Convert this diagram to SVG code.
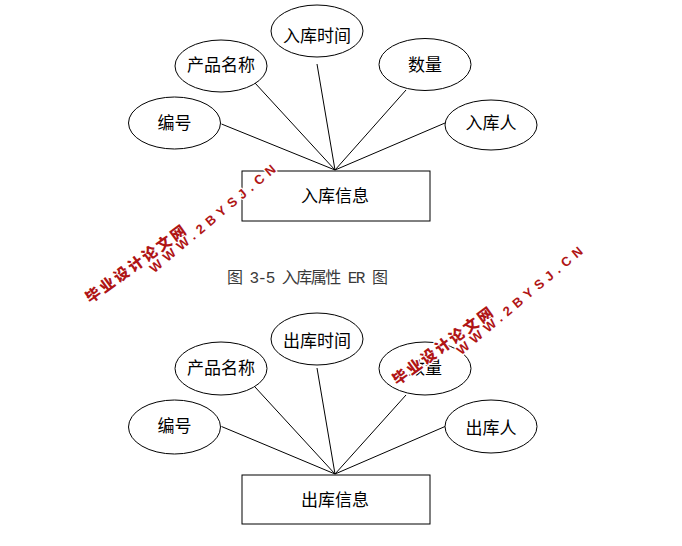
<svg xmlns="http://www.w3.org/2000/svg" width="682" height="546" viewBox="0 0 682 546">
<style>
.attr{fill:#fff;stroke:#000;stroke-width:1}
.ent{fill:#fff;stroke:#000;stroke-width:1}
.lbl{font-family:"Noto Sans CJK SC","Noto Sans",sans-serif;font-size:17px;fill:#000;text-anchor:middle}
.cap{font-family:"Liberation Mono","Noto Sans CJK SC",monospace;font-size:16px;fill:#3a3a3a}
.conn line{stroke:#000;stroke-width:1}
.wm1{font-family:"Noto Sans CJK SC",sans-serif;font-size:15px;font-weight:900;fill:#b01515;text-anchor:middle;stroke:#fff;stroke-width:2.5;paint-order:stroke;stroke-linejoin:round}
.wm2{font-family:"Liberation Sans",Arial,sans-serif;font-size:13px;font-weight:bold;fill:#b01515;text-anchor:middle;stroke:#fff;stroke-width:2.5;paint-order:stroke;stroke-linejoin:round}
</style>
<rect width="682" height="546" fill="#fff"/>

<!-- Diagram 1 -->
<g id="connectors1" class="conn">
<line x1="221.5" y1="124" x2="335" y2="170"/>
<line x1="255" y1="83" x2="335" y2="170"/>
<line x1="317" y1="64" x2="335" y2="170"/>
<line x1="406" y1="90" x2="335" y2="170"/>
<line x1="445" y1="123" x2="335" y2="170"/>
</g>
<g id="n1-bianhao"><ellipse class="attr" cx="174.5" cy="123" rx="46" ry="26"/><text class="lbl" x="174.5" y="129">编号</text></g>
<g id="n1-chanpin"><ellipse class="attr" cx="221" cy="66" rx="46" ry="26"/><text class="lbl" x="221" y="71">产品名称</text></g>
<g id="n1-shijian"><ellipse class="attr" cx="317" cy="31" rx="46" ry="26"/><text class="lbl" x="317" y="42">入库时间</text></g>
<g id="n1-shuliang"><ellipse class="attr" cx="425" cy="64.5" rx="46" ry="26"/><text class="lbl" x="425" y="71">数量</text></g>
<g id="n1-ren"><ellipse class="attr" cx="491" cy="125" rx="46" ry="25"/><text class="lbl" x="491" y="129">入库人</text></g>
<g id="n1-entity"><rect class="ent" x="242" y="171" width="188" height="50"/><text class="lbl" x="335" y="201.5">入库信息</text></g>

<text class="cap" x="227" y="283" textLength="161" lengthAdjust="spacing">图 3-5 入库属性 ER 图</text>

<!-- Diagram 2 -->
<g id="connectors2" class="conn">
<line x1="221.5" y1="426.5" x2="335" y2="474"/>
<line x1="255" y1="387" x2="335" y2="474"/>
<line x1="317" y1="368" x2="335" y2="474"/>
<line x1="406" y1="395" x2="335" y2="474"/>
<line x1="445" y1="426.5" x2="335" y2="474"/>
</g>
<g id="n2-bianhao"><ellipse class="attr" cx="174.5" cy="427" rx="46" ry="27"/><text class="lbl" x="174.5" y="432">编号</text></g>
<g id="n2-chanpin"><ellipse class="attr" cx="221" cy="368.5" rx="46" ry="26.5"/><text class="lbl" x="221" y="374">产品名称</text></g>
<g id="n2-shijian"><ellipse class="attr" cx="317" cy="339" rx="46" ry="26"/><text class="lbl" x="317" y="347">出库时间</text></g>
<g id="n2-shuliang"><ellipse class="attr" cx="425" cy="368.5" rx="46" ry="26.5"/><text class="lbl" x="425" y="374">数量</text></g>
<g id="n2-ren"><ellipse class="attr" cx="491" cy="426.5" rx="46" ry="26.5"/><text class="lbl" x="491" y="433.5">出库人</text></g>
<g id="n2-entity"><rect class="ent" x="242" y="475" width="188" height="49"/><text class="lbl" x="335" y="506">出库信息</text></g>

<!-- Watermarks -->
<g id="watermark1">
<text class="wm1" transform="translate(135.5,264) rotate(-36)" x="0" y="5.5" textLength="120" lengthAdjust="spacing">毕业设计论文网</text>
<text class="wm2" transform="translate(212.5,218.5) rotate(-40)" x="0" y="4.7" textLength="160" lengthAdjust="spacing">WWW.2BYSJ.CN</text>
</g>
<g id="watermark2" transform="translate(307,82)">
<text class="wm1" transform="translate(135.5,264) rotate(-36)" x="0" y="5.5" textLength="120" lengthAdjust="spacing">毕业设计论文网</text>
<text class="wm2" transform="translate(212.5,218.5) rotate(-40)" x="0" y="4.7" textLength="160" lengthAdjust="spacing">WWW.2BYSJ.CN</text>
</g>
</svg>
